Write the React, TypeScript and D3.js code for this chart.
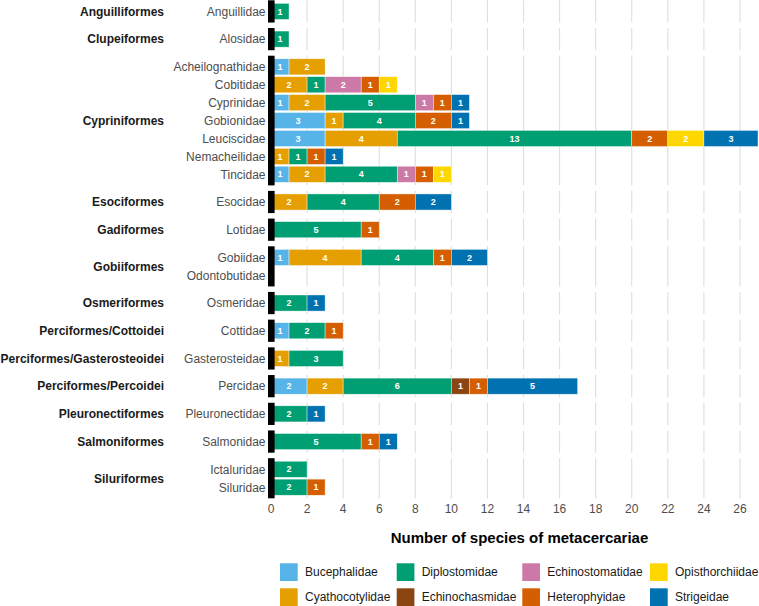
import React from "react";
import * as d3 from "d3";

// Host fish families (rows) and the order each belongs to
const families = [
  "Anguillidae", "Alosidae",
  "Acheilognathidae", "Cobitidae", "Cyprinidae", "Gobionidae", "Leuciscidae", "Nemacheilidae", "Tincidae",
  "Esocidae", "Lotidae", "Gobiidae", "Odontobutidae", "Osmeridae", "Cottidae", "Gasterosteidae",
  "Percidae", "Pleuronectidae", "Salmonidae", "Ictaluridae", "Siluridae",
];
const familyOrders = [
  "Anguilliformes", "Clupeiformes",
  "Cypriniformes", "Cypriniformes", "Cypriniformes", "Cypriniformes", "Cypriniformes", "Cypriniformes", "Cypriniformes",
  "Esociformes", "Gadiformes", "Gobiiformes", "Gobiiformes", "Osmeriformes", "Perciformes/Cottoidei",
  "Perciformes/Gasterosteoidei", "Perciformes/Percoidei", "Pleuronectiformes", "Salmoniformes",
  "Siluriformes", "Siluriformes",
];

// Trematode families (stack order) and species counts per host family
const parasites = [
  "Bucephalidae", "Cyathocotylidae", "Diplostomidae", "Echinochasmidae",
  "Echinostomatidae", "Heterophyidae", "Opisthorchiidae", "Strigeidae",
];
const bucephalidae =     [0, 0, 1, 0, 1, 3, 3, 0, 1, 0, 0, 1, 0, 0, 1, 0, 2, 0, 0, 0, 0];
const cyathocotylidae =  [0, 0, 2, 2, 2, 1, 4, 1, 2, 2, 0, 4, 0, 0, 0, 1, 2, 0, 0, 0, 0];
const diplostomidae =    [1, 1, 0, 1, 5, 4, 13, 1, 4, 4, 5, 4, 0, 2, 2, 3, 6, 2, 5, 2, 2];
const echinochasmidae =  [0, 0, 0, 0, 0, 0, 0, 0, 0, 0, 0, 0, 0, 0, 0, 0, 1, 0, 0, 0, 0];
const echinostomatidae = [0, 0, 0, 2, 1, 0, 0, 0, 1, 0, 0, 0, 0, 0, 0, 0, 0, 0, 0, 0, 0];
const heterophyidae =    [0, 0, 0, 1, 1, 2, 2, 1, 1, 2, 1, 1, 0, 0, 1, 0, 1, 0, 1, 0, 1];
const opisthorchiidae =  [0, 0, 0, 1, 0, 0, 2, 0, 1, 0, 0, 0, 0, 0, 0, 0, 0, 0, 0, 0, 0];
const strigeidae =       [0, 0, 0, 0, 1, 1, 3, 1, 0, 2, 0, 2, 0, 1, 0, 0, 5, 1, 1, 0, 0];
const seriesValues = [
  bucephalidae, cyathocotylidae, diplostomidae, echinochasmidae,
  echinostomatidae, heterophyidae, opisthorchiidae, strigeidae,
];
const colors = [
  "#56B4E9", "#E69F00", "#009E73", "#8B4513",
  "#CC79A7", "#D55E00", "#FFD700", "#0072B2",
];
const xTicks = [0, 2, 4, 6, 8, 10, 12, 14, 16, 18, 20, 22, 24, 26];
const xTitle = "Number of species of metacercariae";

const W = 759;
const H = 606;
const FONT = "'Liberation Sans', Arial, Helvetica, sans-serif";

export default function App() {
  const x = d3.scaleLinear().domain([0, 27]).range([271, 758]);

  // group families into facet panels by order
  const orderNames = Array.from(new Set(familyOrders));
  const panels = orderNames.map((o) => ({
    order: o,
    rows: families.map((f, i) => ({ f, i })).filter((d) => familyOrders[d.i] === o),
  }));

  const panelTop = 0.3;
  const panelBottom = 498.3;
  const gap = 5.5;
  const extra = 0.24; // panel padding, in row units
  const totalUnits = d3.sum(panels, (p) => p.rows.length + extra);
  const unit = (panelBottom - panelTop - gap * (panels.length - 1)) / totalUnits;

  let cursor = panelTop;
  const layout = panels.map((p) => {
    const h = unit * (p.rows.length + extra);
    const top = cursor;
    cursor += h + gap;
    const y = d3
      .scaleBand<string>()
      .domain(p.rows.map((r) => r.f))
      .range([top + (unit * extra) / 2, top + h - (unit * extra) / 2])
      .paddingInner(0.1)
      .paddingOuter(0.05);
    return { ...p, top, h, y };
  });

  const stackData = families.map((f, i) => {
    const row: Record<string, number | string> = { family: f };
    parasites.forEach((p, j) => (row[p] = seriesValues[j][i]));
    return row;
  });
  const stacked = d3.stack<any>().keys(parasites)(stackData);

  const legendCols = [280, 396.7, 522.3, 650];
  const legendRows = [563.3, 588.3];
  const keySize = 17.7;

  return (
    <svg
      width={W}
      height={H}
      style={{ position: "absolute", left: 0, top: 0, background: "#fff" }}
      fontFamily={FONT}
    >
      {layout.map((p) => (
        <g key={p.order}>
          {xTicks.map((t) => (
            <line
              key={t}
              x1={x(t)}
              x2={x(t)}
              y1={p.top}
              y2={p.top + p.h}
              stroke="#dedede"
              strokeWidth={1.1}
            />
          ))}
          {p.rows.map((r) =>
            stacked.map((s, k) => {
              const seg = s[r.i];
              const v = seg[1] - seg[0];
              if (v <= 0) return null;
              const y0 = p.y(r.f)!;
              const bw = p.y.bandwidth();
              const x0 = x(seg[0]);
              const x1 = x(seg[1]);
              return (
                <g key={r.f + k}>
                  <rect
                    x={x0}
                    y={y0}
                    width={x1 - x0}
                    height={bw}
                    fill={colors[k]}
                    stroke="#ffffff"
                    strokeOpacity={0.7}
                    strokeWidth={0.6}
                  />
                  <text
                    x={(x0 + x1) / 2}
                    y={y0 + bw / 2}
                    dy="0.35em"
                    textAnchor="middle"
                    fill="#ffffff"
                    fontWeight="bold"
                    fontSize={9}
                  >
                    {v}
                  </text>
                </g>
              );
            })
          )}
          <rect x={268} y={p.top} width={6.6} height={p.h} fill="#000" />
          {p.rows.map((r) => (
            <text
              key={r.f}
              x={265.5}
              y={p.y(r.f)! + p.y.bandwidth() / 2}
              dy="0.36em"
              textAnchor="end"
              fontSize={12}
              fill="#4d4d4d"
            >
              {r.f}
            </text>
          ))}
          <text
            x={164}
            y={p.top + p.h / 2}
            dy="0.36em"
            textAnchor="end"
            fontSize={12}
            fontWeight="bold"
            fill="#1a1a1a"
          >
            {p.order}
          </text>
        </g>
      ))}

      {xTicks.map((t) => (
        <text
          key={t}
          x={x(t)}
          y={509}
          dy="0.36em"
          textAnchor="middle"
          fontSize={12}
          fill="#4d4d4d"
        >
          {t}
        </text>
      ))}
      <text
        x={519.5}
        y={537.7}
        dy="0.36em"
        textAnchor="middle"
        fontSize={15}
        fontWeight="bold"
        fill="#000"
      >
        {xTitle}
      </text>

      {parasites.map((p, k) => {
        const col = Math.floor(k / 2);
        const row = k % 2;
        const kx = legendCols[col];
        const ky = legendRows[row];
        return (
          <g key={p}>
            <rect x={kx} y={ky} width={keySize} height={keySize} fill={colors[k]} />
            <text
              x={kx + 25}
              y={ky + keySize / 2}
              dy="0.36em"
              fontSize={12}
              fill="#1a1a1a"
            >
              {p}
            </text>
          </g>
        );
      })}
    </svg>
  );
}
